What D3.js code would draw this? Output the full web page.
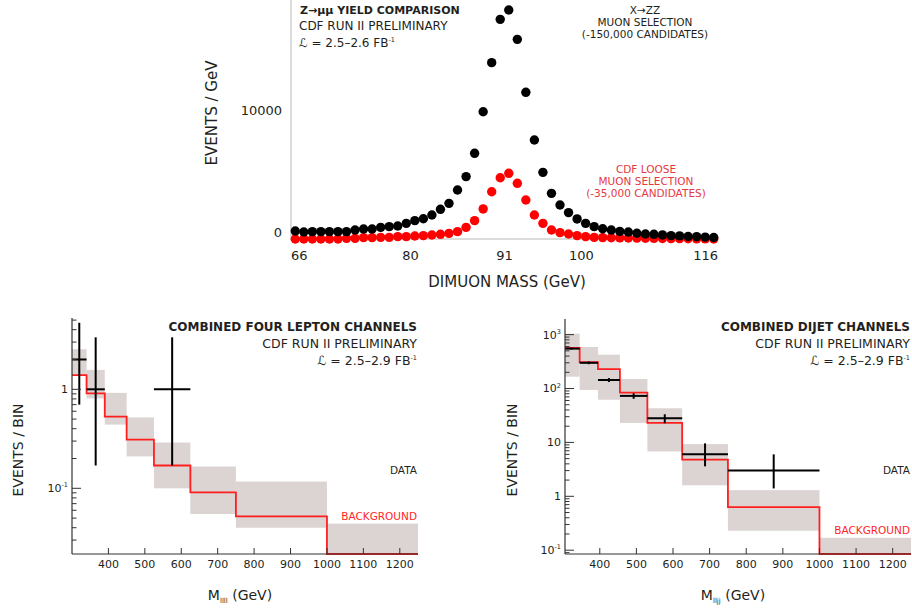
<!DOCTYPE html>
<html>
<head>
<meta charset="utf-8">
<script src="https://cdn.jsdelivr.net/npm/d3@7"></script>
<style>
body { margin: 0; background: #fff; }
text { font-family: "DejaVu Sans", sans-serif; fill: #231f20; }
</style>
</head>
<body>
<script>
// ---- top panel: Z -> mumu yield, 1 GeV bins
const massBins = [66.5, 67.5, 68.5, 69.5, 70.5, 71.5, 72.5, 73.5, 74.5, 75.5,
  76.5, 77.5, 78.5, 79.5, 80.5, 81.5, 82.5, 83.5, 84.5, 85.5,
  86.5, 87.5, 88.5, 89.5, 90.5, 91.5, 92.5, 93.5, 94.5, 95.5,
  96.5, 97.5, 98.5, 99.5, 100.5, 101.5, 102.5, 103.5, 104.5, 105.5,
  106.5, 107.5, 108.5, 109.5, 110.5, 111.5, 112.5, 113.5, 114.5, 115.5];
const xzzMuons = [80, 0, 30, 30, 30, 30, 30, 160, 250, 250,
  380, 440, 490, 710, 930, 1090, 1390, 1860, 2350, 3440,
  4540, 6450, 9860, 13880, 17430, 18200, 15790, 11450, 7540, 4890,
  3170, 2210, 1590, 1070, 710, 440, 270, 160, 50, 0,
  -100, -160, -190, -240, -300, -320, -370, -380, -420, -450];
const looseMuons = [-570, -570, -570, -570, -570, -570, -520, -520, -460, -460,
  -440, -440, -380, -380, -330, -300, -250, -190, -110, 30,
  380, 930, 1890, 3300, 4450, 4810, 3990, 2620, 1390, 710,
  160, -50, -160, -300, -380, -440, -460, -470, -480, -490,
  -500, -510, -520, -530, -540, -540, -550, -560, -560, -570];
const massTicks = [66, 80, 91, 100, 116];
const yieldTicks = [0, 10000];

// ---- bottom panels
const histTicks = [400, 500, 600, 700, 800, 900, 1000, 1100, 1200];

const fourLepEdges = [300, 340, 390, 450, 525, 625, 750, 1000, 1250];
const fourLepBkg = [1.39, 0.91, 0.53, 0.31, 0.17, 0.091, 0.052, 0.02];
const fourLepBandLo = [1.38, 0.81, 0.44, 0.21, 0.10, 0.055, 0.040, 0.02];
const fourLepBandHi = [2.54, 1.57, 0.92, 0.52, 0.29, 0.166, 0.117, 0.044];
const fourLepDataBin = [0, 1, 4];
const fourLepData = [2, 1, 1];
const fourLepErrLo = [0.70, 0.17, 0.17];
const fourLepErrHi = [4.7, 3.35, 3.35];

const dijetEdges = [300, 345, 395, 455, 530, 625, 750, 1000, 1250];
const dijetBkg = [565, 309, 229, 84, 23, 4.8, 0.63, 0.08];
const dijetBandLo = [166, 94, 62, 23, 6.8, 1.6, 0.23, 0.08];
const dijetBandHi = [1040, 590, 424, 150, 43, 9.3, 1.3, 0.17];
const dijetDataBin = [0, 1, 2, 3, 4, 5, 6];
const dijetData = [550, 300, 144, 73, 28, 6, 3];
const dijetErrLo = [527, 283, 132, 64.5, 22.7, 3.6, 1.4];
const dijetErrHi = [573, 317, 156, 81.5, 33.3, 9.6, 6.0];

const RED = "#ff1f1f";
const svg = d3.select("body").append("svg")
  .attr("width", 912).attr("height", 608);

// text with a small raised exponent at the end
function withSup(sel, base, sup, size) {
  sel.append("tspan").text(base);
  sel.append("tspan").attr("font-size", size).attr("dy", -size * 0.75).text(sup);
}

// ================= top panel =================
const x = d3.scaleLinear().domain([66, 116]).range([291, 718]);
const y = d3.scaleLinear().domain([0, 10000]).range([232, 110]);

svg.append("line").attr("x1", 291).attr("x2", 291).attr("y1", 0).attr("y2", 240)
  .attr("stroke", "#cfcfcf").attr("stroke-width", 1.5);
svg.append("line").attr("x1", 291).attr("x2", 718).attr("y1", 239).attr("y2", 239)
  .attr("stroke", "#cfcfcf").attr("stroke-width", 1.5);

svg.append("g").selectAll("circle").data(massBins).join("circle")
  .attr("cx", d => x(d)).attr("cy", (d, i) => y(looseMuons[i]))
  .attr("r", 4.7).attr("fill", "#ff0000");
svg.append("g").selectAll("circle").data(massBins).join("circle")
  .attr("cx", d => x(d)).attr("cy", (d, i) => y(xzzMuons[i]))
  .attr("r", 4.7).attr("fill", "#000");

svg.append("g").selectAll("text").data(massTicks).join("text")
  .attr("x", d => x(d)).attr("y", 260)
  .attr("text-anchor", (d, i) => i == 0 ? "start" : (i == massTicks.length - 1 ? "end" : "middle"))
  .attr("font-size", 13).text(d => d);
svg.append("g").selectAll("text").data(yieldTicks).join("text")
  .attr("x", 282).attr("y", d => y(d)).attr("dy", "0.36em")
  .attr("text-anchor", "end").attr("font-size", 13).text(d => d);

svg.append("text").attr("transform", "translate(217,113) rotate(-90)")
  .attr("text-anchor", "middle").attr("font-size", 15).text("EVENTS / GeV");
svg.append("text").attr("x", 507).attr("y", 287)
  .attr("text-anchor", "middle").attr("font-size", 15).text("DIMUON MASS (GeV)");

svg.append("text").attr("x", 300).attr("y", 14).attr("font-size", 11)
  .attr("font-weight", "bold").text("Z→μμ YIELD COMPARISON");
svg.append("text").attr("x", 299).attr("y", 30).attr("font-size", 12)
  .text("CDF RUN II PRELIMINARY");
withSup(svg.append("text").attr("x", 299).attr("y", 47).attr("font-size", 12),
  "ℒ = 2.5–2.6 FB", "-1", 6.5);

const noteA = ["X→ZZ", "MUON SELECTION", "(-150,000 CANDIDATES)"];
svg.append("g").selectAll("text").data(noteA).join("text")
  .attr("x", 645).attr("y", (d, i) => 14 + i * 12)
  .attr("text-anchor", "middle").attr("font-size", 10.5).text(d => d);
const noteB = ["CDF LOOSE", "MUON SELECTION", "(-35,000 CANDIDATES)"];
svg.append("g").selectAll("text").data(noteB).join("text")
  .attr("x", 646).attr("y", (d, i) => 173 + i * 12)
  .attr("text-anchor", "middle").attr("font-size", 10.5)
  .style("fill", "#e4393f").text(d => d);

// ================= bottom panels =================
function histPanel(o) {
  const g = svg.append("g");
  const hx = d3.scaleLinear().domain(o.xDomain).range(o.xRange).clamp(true);
  const hy = d3.scaleLog().domain(o.yDomain).range([554, o.top]).clamp(true);
  const bins = o.bkg.map((b, i) => i);

  g.append("g").selectAll("rect").data(bins).join("rect")
    .attr("x", i => hx(o.edges[i]))
    .attr("width", i => hx(o.edges[i + 1]) - hx(o.edges[i]))
    .attr("y", i => hy(o.hi[i]))
    .attr("height", i => hy(o.lo[i]) - hy(o.hi[i]))
    .attr("fill", "#dbd4d3");

  const pts = o.edges.map((e, i) => [e, o.bkg[Math.min(i, o.bkg.length - 1)]]);
  g.append("path").datum(pts)
    .attr("d", d3.line().x(d => hx(d[0])).y(d => hy(d[1])).curve(d3.curveStepAfter))
    .attr("fill", "none").attr("stroke", RED).attr("stroke-width", 1.8);

  // data with errors
  const dg = g.append("g").attr("stroke", "#000").attr("stroke-width", 2);
  o.data.forEach((n, k) => {
    const b = o.dataBin[k];
    const xm = hx((o.edges[b] + o.edges[b + 1]) / 2);
    dg.append("line").attr("x1", hx(o.edges[b])).attr("x2", hx(o.edges[b + 1]))
      .attr("y1", hy(n)).attr("y2", hy(n));
    dg.append("line").attr("x1", xm).attr("x2", xm)
      .attr("y1", hy(o.errLo[k])).attr("y2", hy(o.errHi[k]));
  });

  // axes
  const x0 = o.xRange[0];
  g.append("line").attr("x1", x0).attr("x2", x0).attr("y1", o.top).attr("y2", 554)
    .attr("stroke", "#333").attr("stroke-width", 1.2);
  g.append("line").attr("x1", x0).attr("x2", o.xRange[1]).attr("y1", 554).attr("y2", 554)
    .attr("stroke", "#333").attr("stroke-width", 1.2);

  const yt = hy.ticks();
  const isMajor = v => Math.abs(Math.log10(v) - Math.round(Math.log10(v))) < 1e-6;
  g.append("g").selectAll("line").data(yt).join("line")
    .attr("x1", x0).attr("x2", v => x0 + (isMajor(v) ? 9 : 4.5))
    .attr("y1", v => hy(v)).attr("y2", v => hy(v))
    .attr("stroke", "#333").attr("stroke-width", 1);
  g.append("g").selectAll("text").data(yt.filter(isMajor)).join("text")
    .attr("x", x0 - 4).attr("y", v => hy(v)).attr("dy", "0.36em")
    .attr("text-anchor", "end").attr("font-size", 11)
    .each(function(v) {
      const e = Math.round(Math.log10(v));
      const t = d3.select(this);
      if (e == 0) t.text("1");
      else if (e == 1) t.text("10");
      else withSup(t, "10", String(e), 6.5);
    });

  g.append("g").selectAll("line").data(histTicks).join("line")
    .attr("x1", v => hx(v)).attr("x2", v => hx(v)).attr("y1", 554).attr("y2", 548)
    .attr("stroke", "#333").attr("stroke-width", 1);
  g.append("g").selectAll("text").data(histTicks).join("text")
    .attr("x", v => hx(v)).attr("y", 568).attr("text-anchor", "middle")
    .attr("font-size", 11).text(d => d);

  // titles
  const xr = o.xRange[1] - 1;
  g.append("text").attr("x", xr).attr("y", 331).attr("text-anchor", "end")
    .attr("font-size", 12).attr("font-weight", "bold").text(o.title);
  g.append("text").attr("x", xr).attr("y", 348).attr("text-anchor", "end")
    .attr("font-size", 12.5).text("CDF RUN II PRELIMINARY");
  withSup(g.append("text").attr("x", xr).attr("y", 365).attr("text-anchor", "end")
    .attr("font-size", 12.5), "ℒ = 2.5–2.9 FB", "-1", 6.5);
  g.append("text").attr("x", xr).attr("y", 474).attr("text-anchor", "end")
    .attr("font-size", 10.5).text("DATA");
  g.append("text").attr("x", xr).attr("y", o.bkgLabelY).attr("text-anchor", "end")
    .attr("font-size", 10.5).style("fill", RED).text("BACKGROUND");

  g.append("text").attr("transform", `translate(${o.yTitleX},450) rotate(-90)`)
    .attr("text-anchor", "middle").attr("font-size", 14).text("EVENTS / BIN");
  const xt = g.append("text").attr("x", o.xTitleX).attr("y", 600)
    .attr("text-anchor", "middle").attr("font-size", 14);
  xt.append("tspan").text("M");
  xt.append("tspan").attr("font-size", 7).attr("dy", 3).text(o.sub);
  xt.append("tspan").attr("dy", -3).text(" (GeV)");
}

histPanel({
  xDomain: [300, 1250], xRange: [72, 418], yDomain: [0.0217, 5.25], top: 318,
  edges: fourLepEdges, bkg: fourLepBkg, lo: fourLepBandLo, hi: fourLepBandHi,
  dataBin: fourLepDataBin, data: fourLepData, errLo: fourLepErrLo, errHi: fourLepErrHi,
  title: "COMBINED FOUR LEPTON CHANNELS", bkgLabelY: 520,
  yTitleX: 23, xTitleX: 240, sub: "llll"
});
histPanel({
  xDomain: [305, 1250], xRange: [565, 911], yDomain: [0.085, 1950], top: 319,
  edges: dijetEdges, bkg: dijetBkg, lo: dijetBandLo, hi: dijetBandHi,
  dataBin: dijetDataBin, data: dijetData, errLo: dijetErrLo, errHi: dijetErrHi,
  title: "COMBINED DIJET CHANNELS", bkgLabelY: 534,
  yTitleX: 517, xTitleX: 733, sub: "lljj"
});
</script>
</body>
</html>
